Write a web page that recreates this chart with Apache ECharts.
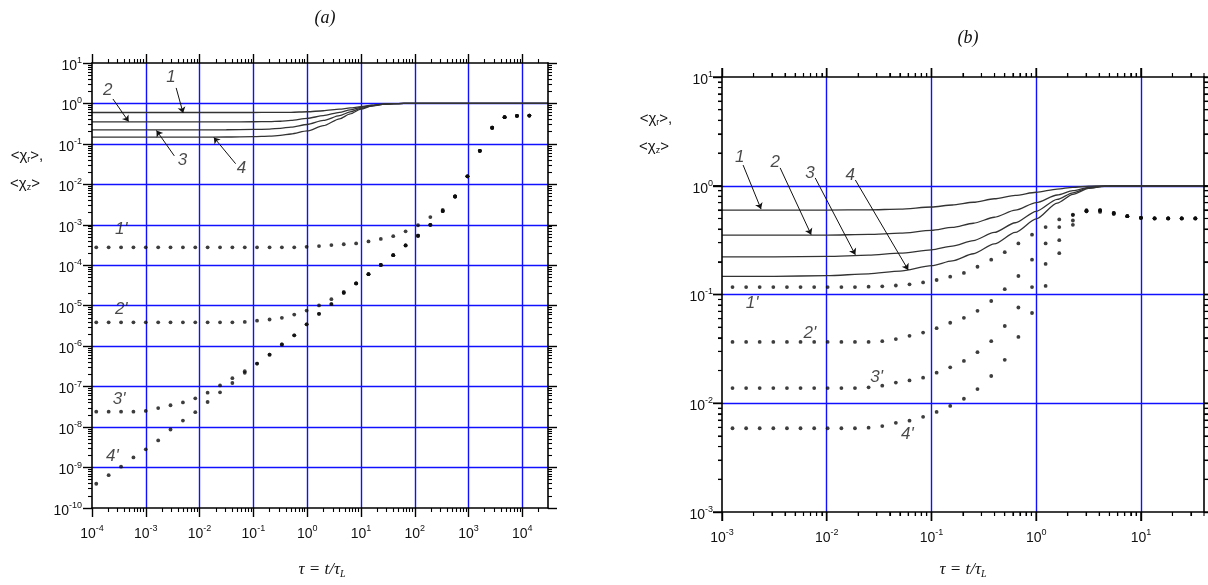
<!DOCTYPE html>
<html>
<head>
<meta charset="utf-8">
<title>chart</title>
<script src="https://cdn.jsdelivr.net/npm/echarts@6.0.0/dist/echarts.min.js"></script>
<style>
html,body{margin:0;padding:0;background:#ffffff;}
#wrap{position:relative;width:1208px;height:585px;}
.layer{position:absolute;left:0;top:0;width:1208px;height:585px;}
</style>
</head>
<body>
<div id="wrap"><div id="chartA" class="layer"></div><div id="chartB" class="layer"></div></div>
<script>
// ================= DATA : panel (a) =================
const tauDotsA = [1.2e-4, 2.04e-4, 3.47e-4, 5.89e-4, 1.0e-3, 1.7e-3, 2.88e-3, 4.9e-3, 8.32e-3, 0.0141, 0.024, 0.0407, 0.0692, 0.117, 0.2, 0.339, 0.575, 0.977, 1.66, 2.82, 4.79, 8.13, 13.8, 23.4, 39.8, 67.6, 115, 195, 331, 562, 955, 1620, 2750, 4680, 7940, 13500];
const dot1A = [2.78e-4, 2.78e-4, 2.78e-4, 2.78e-4, 2.78e-4, 2.78e-4, 2.78e-4, 2.78e-4, 2.78e-4, 2.78e-4, 2.78e-4, 2.78e-4, 2.78e-4, 2.78e-4, 2.78e-4, 2.78e-4, 2.78e-4, 2.85e-4, 2.99e-4, 3.16e-4, 3.31e-4, 3.47e-4, 3.89e-4, 4.47e-4, 5.25e-4, 6.92e-4, 9.77e-4, 1.55e-3, 2.34e-3, 5.01e-3, 0.0158, 0.0676, 0.251, 0.457, 0.495, 0.501];
const dot2A = [3.89e-6, 3.89e-6, 3.89e-6, 3.89e-6, 3.89e-6, 3.89e-6, 3.89e-6, 3.89e-6, 3.89e-6, 3.89e-6, 3.89e-6, 3.89e-6, 3.98e-6, 4.27e-6, 4.57e-6, 5.01e-6, 6.03e-6, 7.59e-6, 1.02e-5, 1.45e-5, 2.19e-5, 3.55e-5, 6.03e-5, 1.02e-4, 1.78e-4, 3.09e-4, 5.37e-4, 1.0e-3, 2.19e-3, 5.01e-3, 0.0158, 0.0676, 0.251, 0.457, 0.495, 0.501];
const dot3A = [2.40e-8, 2.40e-8, 2.40e-8, 2.40e-8, 2.51e-8, 2.95e-8, 3.47e-8, 4.07e-8, 5.13e-8, 7.08e-8, 1.07e-7, 1.62e-7, 2.40e-7, 3.72e-7, 6.17e-7, 1.10e-6, 1.86e-6, 3.47e-6, 6.31e-6, 1.10e-5, 2.09e-5, 3.55e-5, 6.03e-5, 1.02e-4, 1.78e-4, 3.09e-4, 5.37e-4, 1.0e-3, 2.19e-3, 5.01e-3, 0.0158, 0.0676, 0.251, 0.457, 0.495, 0.501];
const dot4A = [3.98e-10, 6.46e-10, 1.05e-9, 1.78e-9, 2.82e-9, 4.68e-9, 8.71e-9, 1.45e-8, 2.34e-8, 4.17e-8, 7.24e-8, 1.23e-7, 2.19e-7, 3.72e-7, 6.17e-7, 1.10e-6, 1.86e-6, 3.47e-6, 6.31e-6, 1.10e-5, 2.09e-5, 3.55e-5, 6.03e-5, 1.02e-4, 1.78e-4, 3.09e-4, 5.37e-4, 1.0e-3, 2.19e-3, 5.01e-3, 0.0158, 0.0676, 0.251, 0.457, 0.495, 0.501];

const tauSolidA = [1e-4, 1e-3, 0.01, 0.0316, 0.1, 0.2, 0.316, 0.5, 1, 2, 4, 6.3, 10, 15.8, 25, 40, 63, 100, 1000, 30000];
const sol1A = [0.598, 0.598, 0.598, 0.598, 0.598, 0.600, 0.601, 0.605, 0.624, 0.661, 0.724, 0.776, 0.832, 0.902, 0.959, 0.991, 1, 1, 1, 1];
const sol2A = [0.351, 0.351, 0.351, 0.351, 0.353, 0.355, 0.363, 0.380, 0.427, 0.501, 0.603, 0.692, 0.794, 0.891, 0.955, 0.989, 1, 1, 1, 1];
const sol3A = [0.222, 0.222, 0.222, 0.224, 0.228, 0.232, 0.243, 0.260, 0.302, 0.380, 0.501, 0.617, 0.759, 0.871, 0.951, 0.986, 1, 1, 1, 1];
const sol4A = [0.147, 0.147, 0.147, 0.148, 0.151, 0.155, 0.162, 0.176, 0.209, 0.282, 0.417, 0.550, 0.724, 0.861, 0.944, 0.984, 1, 1, 1, 1];

// ================= DATA : panel (b) =================
const tauDotsB = [0.00126, 0.0017, 0.00229, 0.00309, 0.00417, 0.00562, 0.00759, 0.0102, 0.0138, 0.0186, 0.0251, 0.0339, 0.0457, 0.0617, 0.0832, 0.112, 0.151, 0.204, 0.275, 0.372, 0.501, 0.676, 0.912, 1.23, 1.66, 2.24, 3.02, 4.07, 5.50, 7.41, 10.0, 13.5, 18.2, 24.5, 33.1];
const dot1B = [0.117, 0.117, 0.117, 0.117, 0.117, 0.117, 0.117, 0.117, 0.117, 0.117, 0.118, 0.119, 0.121, 0.124, 0.129, 0.136, 0.146, 0.158, 0.180, 0.209, 0.245, 0.295, 0.355, 0.417, 0.490, 0.543, 0.582, 0.575, 0.550, 0.525, 0.507, 0.501, 0.501, 0.501, 0.501];
const dot2B = [0.0366, 0.0366, 0.0366, 0.0366, 0.0366, 0.0366, 0.0366, 0.0366, 0.0366, 0.0366, 0.0366, 0.0372, 0.0389, 0.0417, 0.0447, 0.0490, 0.0550, 0.0610, 0.0708, 0.0871, 0.112, 0.148, 0.209, 0.295, 0.417, 0.537, 0.596, 0.589, 0.556, 0.525, 0.507, 0.501, 0.501, 0.501, 0.501];
const dot3B = [0.0138, 0.0138, 0.0138, 0.0138, 0.0138, 0.0138, 0.0138, 0.0138, 0.0138, 0.0138, 0.0140, 0.0145, 0.0155, 0.0162, 0.0172, 0.0191, 0.0214, 0.0245, 0.0295, 0.0372, 0.0513, 0.0759, 0.117, 0.191, 0.316, 0.479, 0.589, 0.596, 0.562, 0.525, 0.507, 0.501, 0.501, 0.501, 0.501];
const dot4B = [0.00589, 0.00589, 0.00589, 0.00589, 0.00589, 0.00589, 0.00589, 0.00589, 0.00589, 0.00589, 0.00596, 0.00617, 0.00661, 0.00692, 0.00750, 0.00832, 0.00944, 0.0110, 0.0135, 0.0178, 0.0251, 0.0407, 0.0676, 0.120, 0.240, 0.437, 0.582, 0.596, 0.562, 0.525, 0.507, 0.501, 0.501, 0.501, 0.501];

const tauSolidB = [0.001, 0.00316, 0.01, 0.0251, 0.0501, 0.1, 0.158, 0.251, 0.398, 0.631, 1, 1.585, 2.24, 3.16, 4.47, 6.31, 10, 40];
const sol1B = [0.598, 0.598, 0.598, 0.600, 0.610, 0.638, 0.665, 0.705, 0.759, 0.817, 0.871, 0.933, 0.968, 0.991, 0.998, 1, 1, 1];
const sol2B = [0.351, 0.351, 0.352, 0.357, 0.366, 0.389, 0.414, 0.452, 0.513, 0.596, 0.700, 0.822, 0.902, 0.966, 0.993, 1, 1, 1];
const sol3B = [0.222, 0.222, 0.224, 0.230, 0.240, 0.257, 0.279, 0.313, 0.372, 0.457, 0.582, 0.750, 0.861, 0.955, 0.991, 1, 1, 1];
const sol4B = [0.147, 0.147, 0.149, 0.155, 0.164, 0.184, 0.204, 0.237, 0.292, 0.372, 0.495, 0.692, 0.832, 0.944, 0.989, 1, 1, 1];

// axis ranges (data units)
const rangeA = {xMin: 1e-4, xMax: 3e4, yMin: 1e-10, yMax: 10};
const rangeB = {xMin: 1e-3, xMax: 40, yMin: 1e-3, yMax: 10};

// ================= annotations (data coordinates) =================
const curveLabelsA = [['1', 2.95e-3, 4.5], ['2', 1.97e-4, 2.15], ['3', 4.8e-3, 0.0403], ['4', 0.060, 0.0255],
  ["1'", 3.5e-4, 7.6e-4], ["2'", 3.5e-4, 8.3e-6], ["3'", 3.2e-4, 4.9e-8], ["4'", 2.4e-4, 1.95e-9]];
const arrowsA = [[3.67e-3, 2.42, 4.94e-3, 0.58], [2.45e-4, 1.29, 4.8e-4, 0.356], [3.39e-3, 0.0506, 1.58e-3, 0.215], [0.0468, 0.0324, 0.0184, 0.145]];
const curveLabelsB = [['1', 1.48e-3, 1.84], ['2', 3.23e-3, 1.65], ['3', 6.9e-3, 1.31], ['4', 0.0168, 1.26],
  ["1'", 1.94e-3, 0.0838], ["2'", 6.9e-3, 0.0443], ["3'", 0.030, 0.0174], ["4'", 0.059, 0.0052]];
const arrowsB = [[1.59e-3, 1.55, 2.36e-3, 0.61], [3.59e-3, 1.46, 7.1e-3, 0.355], [7.76e-3, 1.18, 0.01875, 0.232], [0.01875, 1.13, 0.060, 0.168]];

// ================= helpers =================
const LOG = Math.log10;
const FONT = 'Liberation Sans';
const SERIF = 'Liberation Serif';

const tickRich = {
  b: {fontFamily: FONT, fontSize: 14, color: '#111', lineHeight: 14, padding: [3, 0, 0, 0], verticalAlign: 'top'},
  s: {fontFamily: FONT, fontSize: 9, color: '#111', lineHeight: 9, verticalAlign: 'top'}
};
function fmtPow(v) {
  const e = Math.round(v);
  if (Math.abs(v - e) > 1e-6) return '';
  return '{b|10}{s|' + e + '}';
}
function intRange(a, b) { const o = []; for (let i = a; i <= b; i++) o.push(i); return o; }
function minorTicks(lo, hi) {
  const o = [];
  for (let e = Math.floor(lo) - 1; e <= Math.ceil(hi); e++) {
    for (let k = 2; k <= 9; k++) {
      const v = e + LOG(k);
      if (v > lo + 1e-6 && v < hi - 1e-6) o.push(v);
    }
  }
  return o;
}
function buildAxes(list, dim, tMin, tMax, gridVals, margin) {
  const lo = LOG(tMin), hi = LOG(tMax);
  const pos = dim === 'x' ? ['bottom', 'top'] : ['left', 'right'];
  list.push({type: 'log', logBase: 10, gridIndex: 0, position: pos[0], min: tMin, max: tMax, show: false,
    axisLine: {onZero: false}, splitLine: {show: false}});
  const dataIndex = list.length - 1;
  const blank = {type: 'value', gridIndex: 0, min: lo, max: hi,
    axisLine: {show: false, onZero: false}, axisTick: {show: false}, axisLabel: {show: false}, splitLine: {show: false}};
  list.push(Object.assign({}, blank, {position: pos[0], z: 0, interval: 1,
    axisTick: {show: false, customValues: gridVals},
    splitLine: {show: true, lineStyle: {color: '#1010ff', width: 1.4}}}));
  const majors = intRange(Math.ceil(lo - 1e-9), Math.floor(hi + 1e-9));
  const minors = minorTicks(lo, hi);
  pos.forEach(function (p, i) {
    list.push(Object.assign({}, blank, {
      position: p, z: 4, interval: 1,
      axisLine: {show: true, onZero: false, lineStyle: {color: '#000', width: 1.6}},
      axisTick: {show: true, customValues: majors, length: 9, lineStyle: {color: '#000', width: 1.4}},
      axisLabel: i === 0 ? {show: true, customValues: majors, margin: margin, formatter: fmtPow, rich: tickRich} : {show: false}
    }));
    list.push(Object.assign({}, blank, {
      position: p, z: 4,
      axisTick: {show: true, customValues: minors, length: 4, lineStyle: {color: '#000', width: 1.1}}
    }));
  });
  return dataIndex;
}
function pairs(xs, ys) { return xs.map(function (x, i) { return [x, ys[i]]; }); }
function solid(xi, yi, xs, ys, extra) {
  return Object.assign({type: 'line', xAxisIndex: xi, yAxisIndex: yi, data: pairs(xs, ys),
    symbol: 'none', smooth: 0.25, smoothMonotone: 'x', z: 3,
    lineStyle: {color: '#333', width: 1.3}}, extra || {});
}
function dotted(xi, yi, xs, ys) {
  return {type: 'scatter', xAxisIndex: xi, yAxisIndex: yi, data: pairs(xs, ys),
    symbol: 'circle', symbolSize: 3.8, z: 3, itemStyle: {color: '#0d0d0d'}};
}
function arrowLines(arr) {
  return {silent: true, symbol: ['none', 'arrow'], symbolSize: 6, animation: false,
    label: {show: false}, lineStyle: {type: 'solid', color: '#111', width: 1},
    data: arr.map(function (a) { return [{coord: [a[0], a[1]]}, {coord: [a[2], a[3]]}]; })};
}
function labelSeries(xi, yi, arr) {
  return {type: 'scatter', xAxisIndex: xi, yAxisIndex: yi, symbolSize: 1, z: 5, silent: true,
    itemStyle: {color: 'rgba(0,0,0,0)'},
    label: {show: true, position: 'inside', fontFamily: FONT, fontStyle: 'italic', fontSize: 17, color: '#1a1a1a'},
    data: arr.map(function (a) { return {value: [a[1], a[2]], label: {formatter: a[0]}}; })};
}
function txt(x, y, text, rich, font) {
  return {type: 'text', x: x, y: y, z: 10, silent: true,
    style: {text: text, rich: rich, font: font || ('15px "' + FONT + '"'), fill: '#111', align: 'center', verticalAlign: 'middle'}};
}
const nameRich = {
  t: {fontFamily: FONT, fontSize: 15, fill: '#111', lineHeight: 17},
  u: {fontFamily: FONT, fontSize: 9, fill: '#111', lineHeight: 8, verticalAlign: 'bottom'}
};
const tauRich = {
  i: {fontFamily: SERIF, fontStyle: 'italic', fontSize: 17, fill: '#111', lineHeight: 18},
  l: {fontFamily: SERIF, fontStyle: 'italic', fontSize: 10, fill: '#111', lineHeight: 8, verticalAlign: 'bottom'}
};

// tick marks placed with the chart's own log axes (convertToPixel), drawn as graphic lines
function tickGraphics(chart, xi, yi, range) {
  const out = [];
  const X = function (v) { return chart.convertToPixel({xAxisIndex: xi}, v); };
  const Y = function (v) { return chart.convertToPixel({yAxisIndex: yi}, v); };
  const xL = X(range.xMin), xR = X(range.xMax), yB = Y(range.yMin), yT = Y(range.yMax);
  function line(x1, y1, x2, y2, w) {
    out.push({type: 'line', z: 20, silent: true, shape: {x1: x1, y1: y1, x2: x2, y2: y2}, style: {stroke: '#000', lineWidth: w}});
  }
  [[range.xMin, range.xMax, 'x'], [range.yMin, range.yMax, 'y']].forEach(function (r) {
    for (let e = Math.floor(LOG(r[0])); e <= Math.ceil(LOG(r[1])); e++) {
      for (let k = 1; k <= 9; k++) {
        const v = k * Math.pow(10, e);
        if (v < r[0] * 0.9999 || v > r[1] * 1.0001) continue;
        const len = k === 1 ? 9 : 4, w = k === 1 ? 1.4 : 1.1;
        if (r[2] === 'x') {
          const p = X(v);
          line(p, yB, p, yB + len, w);
          line(p, yT, p, yT - len, w);
        } else {
          const p = Y(v);
          line(xL, p, xL - len, p, w);
          line(xR, p, xR + len, p, w);
        }
      }
    }
  });
  return out;
}

function makePanel(domId, gridRect, range, gx, gy, mx, my, withMarks, dots, solids, tauDots, tauSolid, labels, arrows, texts) {
  const chart = echarts.init(document.getElementById(domId), null, {renderer: 'canvas'});
  const xAxes = [], yAxes = [];
  const xi = buildAxes(xAxes, 'x', range.xMin, range.xMax, gx, mx);
  const yi = buildAxes(yAxes, 'y', range.yMin, range.yMax, gy, my);
  const series = [];
  solids.forEach(function (s, k) { series.push(solid(xi, yi, tauSolid, s, k === 0 ? {markLine: arrowLines(arrows)} : null)); });
  dots.forEach(function (d) { series.push(dotted(xi, yi, tauDots, d)); });
  series.push(labelSeries(xi, yi, labels));
  chart.setOption({
    animation: false,
    backgroundColor: 'transparent',
    grid: [Object.assign({containLabel: false, outerBoundsMode: 'none'}, gridRect)],
    xAxis: xAxes, yAxis: yAxes, series: series, graphic: texts
  });
  if (withMarks) {
    chart.setOption({graphic: texts.concat(tickGraphics(chart, xi, yi, range))});
  }
  return chart;
}

makePanel('chartA', {left: 92, top: 63, width: 456, height: 445}, rangeA,
  [-3, -2, -1, 0, 1, 2, 3, 4], [-9, -8, -7, -6, -5, -4, -3, -2, -1, 0], 16, 10, false,
  [dot1A, dot2A, dot3A, dot4A], [sol1A, sol2A, sol3A, sol4A], tauDotsA, tauSolidA, curveLabelsA, arrowsA,
  [txt(325, 18, '(a)', null, 'italic 18px "' + SERIF + '"'),
   txt(27, 156, '{t|<χ}{u|r}{t|>,}', nameRich),
   txt(25, 184, '{t|<χ}{u|z}{t|>}', nameRich),
   txt(322, 570, '{i|τ = t/τ}{l|L}', tauRich)]);

makePanel('chartB', {left: 722, top: 77, width: 482, height: 435}, rangeB,
  [-2, -1, 0, 1], [-2, -1, 0], 16, 9, true,
  [dot1B, dot2B, dot3B, dot4B], [sol1B, sol2B, sol3B, sol4B], tauDotsB, tauSolidB, curveLabelsB, arrowsB,
  [txt(968, 38, '(b)', null, 'italic 18px "' + SERIF + '"'),
   txt(656, 119, '{t|<χ}{u|r}{t|>,}', nameRich),
   txt(654, 147, '{t|<χ}{u|z}{t|>}', nameRich),
   txt(963, 570, '{i|τ = t/τ}{l|L}', tauRich)]);
</script>
</body>
</html>
